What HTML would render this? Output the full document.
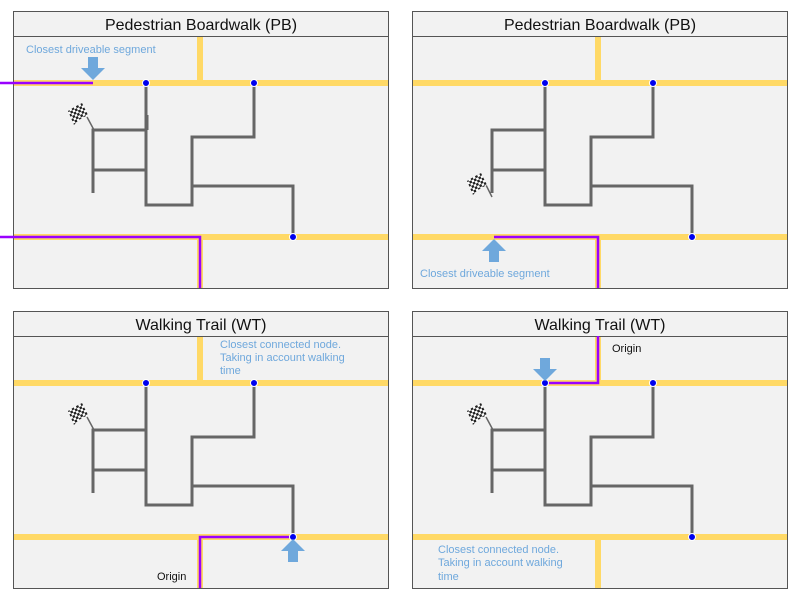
<!DOCTYPE html>
<html><head><style>html,body{margin:0;padding:0;background:#fff;width:800px;height:600px;overflow:hidden}</style></head>
<body>
<svg width="800" height="600" viewBox="0 0 800 600" xmlns="http://www.w3.org/2000/svg" font-family="Liberation Sans, sans-serif">
<defs>
<pattern id="chk" width="5" height="5" patternUnits="userSpaceOnUse" patternTransform="rotate(-25)">
<rect width="5" height="5" fill="#fff"/><rect width="2.5" height="2.5" fill="#222"/><rect x="2.5" y="2.5" width="2.5" height="2.5" fill="#222"/>
</pattern>
<g id="mazeBase" fill="none" stroke="#666" stroke-width="3">
<path d="M146 83V205H192V137H254V83"/>
<path d="M93 193V130H146M93 170H146M192 186H293V237"/>
</g>
<g id="flag">
<path d="M-12 -4 C-6 -8 -2 -10 2 -12 L8 0 C4 2 -1 4 -6 10 Z" fill="url(#chk)"/>
</g>
<g id="dots" fill="#0000ee" stroke="#fff" stroke-width="1">
<circle cx="146" cy="83" r="3.5"/><circle cx="254" cy="83" r="3.5"/><circle cx="293" cy="237" r="3.5"/>
</g>
</defs>

<g>
<rect x="13.5" y="11.5" width="375" height="277" fill="#f2f2f2" stroke="#555"/>
<rect x="13.5" y="11.5" width="375" height="25" fill="#f2f2f2" stroke="#555"/>
<text x="201" y="30" text-anchor="middle" font-size="16" fill="#111">Pedestrian Boardwalk (PB)</text>
<rect x="412.5" y="11.5" width="375" height="277" fill="#f2f2f2" stroke="#555"/>
<rect x="412.5" y="11.5" width="375" height="25" fill="#f2f2f2" stroke="#555"/>
<text x="600" y="30" text-anchor="middle" font-size="16" fill="#111">Pedestrian Boardwalk (PB)</text>
<rect x="13.5" y="311.5" width="375" height="277" fill="#f2f2f2" stroke="#555"/>
<rect x="13.5" y="311.5" width="375" height="25" fill="#f2f2f2" stroke="#555"/>
<text x="201" y="330" text-anchor="middle" font-size="16" fill="#111">Walking Trail (WT)</text>
<rect x="412.5" y="311.5" width="375" height="277" fill="#f2f2f2" stroke="#555"/>
<rect x="412.5" y="311.5" width="375" height="25" fill="#f2f2f2" stroke="#555"/>
<text x="600" y="330" text-anchor="middle" font-size="16" fill="#111">Walking Trail (WT)</text>
</g>

<g fill="#ffd966">
<rect x="14" y="80" width="374" height="6"/><rect x="14" y="234" width="374" height="6"/><rect x="197" y="37" width="6" height="46"/><rect x="197" y="237" width="6" height="51"/>
<rect x="413" y="80" width="374" height="6"/><rect x="413" y="234" width="374" height="6"/><rect x="595" y="37" width="6" height="46"/><rect x="595" y="237" width="6" height="51"/>
<rect x="14" y="380" width="374" height="6"/><rect x="14" y="534" width="374" height="6"/><rect x="197" y="337" width="6" height="46"/><rect x="197" y="537" width="6" height="51"/>
<rect x="413" y="380" width="374" height="6"/><rect x="413" y="534" width="374" height="6"/><rect x="595" y="337" width="6" height="46"/><rect x="595" y="537" width="6" height="51"/>
</g>

<use href="#mazeBase"/><use href="#mazeBase" x="399"/><use href="#mazeBase" y="300"/><use href="#mazeBase" x="399" y="300"/>
<path d="M147 115V130" stroke="#666" stroke-width="3"/>
<g stroke="#666" stroke-width="1.5" fill="none">
<path d="M94 130L87 117"/>
<path d="M94 430L87 417"/>
<path d="M493 430L486 417"/>
<path d="M492 197L486 185"/>
</g>
<use href="#flag" x="80" y="115"/><use href="#flag" x="479" y="185"/><use href="#flag" x="80" y="415"/><use href="#flag" x="479" y="415"/>

<g fill="none" stroke="#9900ff" stroke-width="2.5">
<path d="M0 83H93"/><path d="M0 237H200V288"/>
<path d="M494 237H598V288"/>
<path d="M293 537H200V588"/>
<path d="M598 336V383H545"/>
</g>

<use href="#dots"/><use href="#dots" x="399"/><use href="#dots" y="300"/><use href="#dots" x="399" y="300"/>

<g fill="#6fa8dc">
<path d="M88 57h10v11h7l-12 12l-12-12h7z"/>
<path d="M489 262h10v-11h7l-12-12l-12 12h7z"/>
<path d="M288 562h10v-11h7l-12-12l-12 12h7z"/>
<path d="M540 358h10v11h7l-12 12l-12-12h7z"/>
</g>

<g font-size="11" fill="#6fa8dc">
<text x="26" y="53">Closest driveable segment</text>
<text x="420" y="277">Closest driveable segment</text>
<text x="220" y="348">Closest connected node.</text>
<text x="220" y="361">Taking in account walking</text>
<text x="220" y="374">time</text>
<text x="438" y="553">Closest connected node.</text>
<text x="438" y="566">Taking in account walking</text>
<text x="438" y="580">time</text>
</g>
<g font-size="11" fill="#111">
<text x="157" y="580">Origin</text>
<text x="612" y="352">Origin</text>
</g>
</svg>
</body></html>
